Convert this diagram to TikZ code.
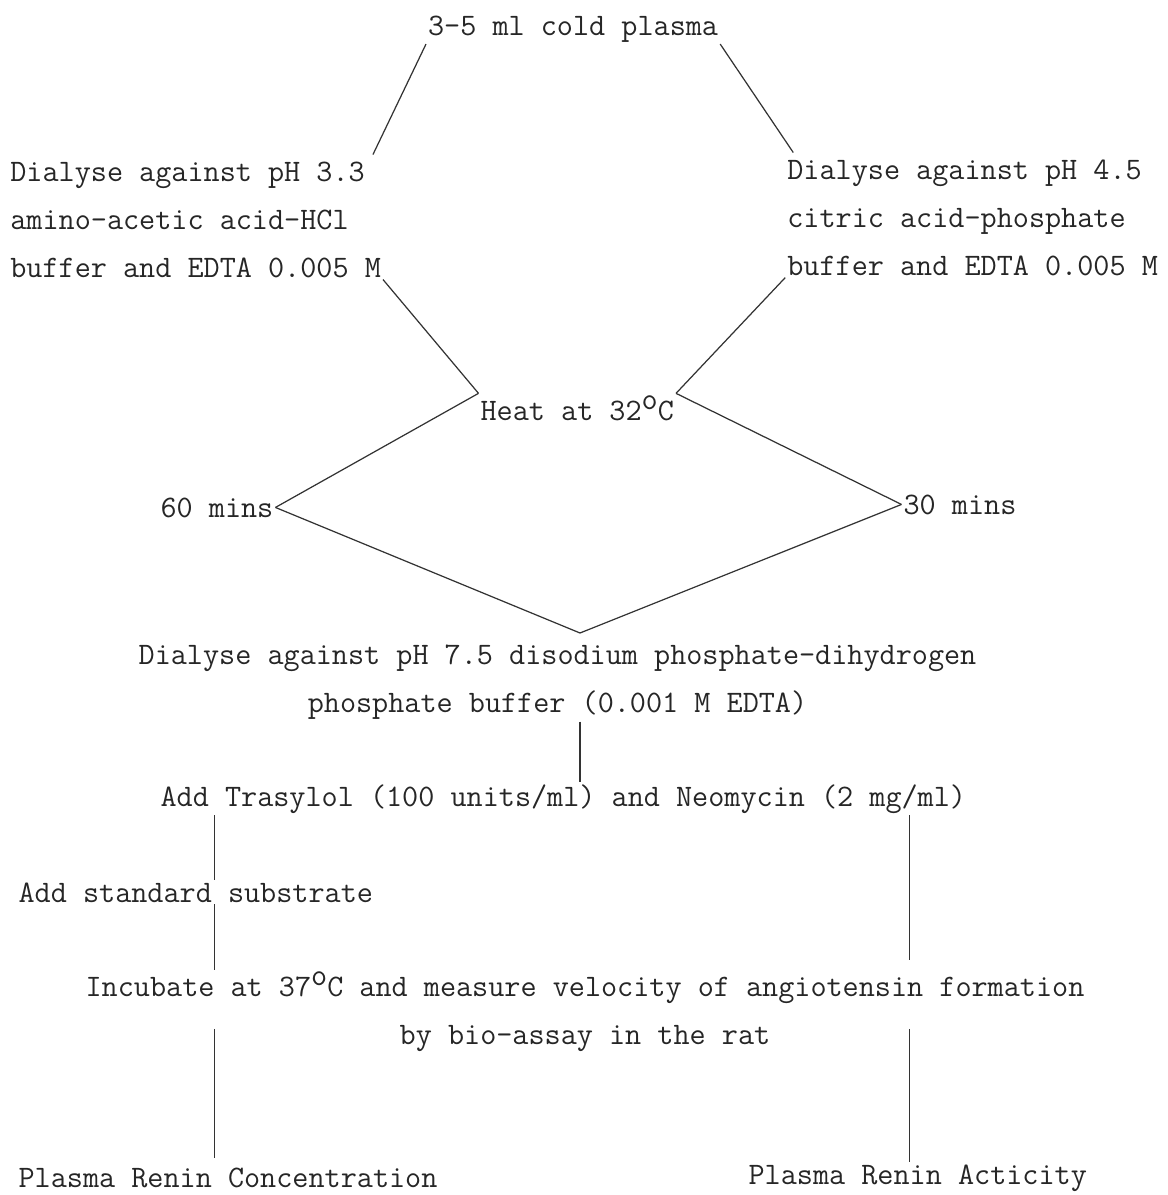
\documentclass[tikz,border=0pt]{standalone}
\usepackage{fontspec}
\usepackage{tikz}
\usetikzlibrary{calc}
\newcommand{\stagefont}{\fontsize{17.8}{27.3}\selectfont\ttfamily}
\newcommand{\dego}{\raisebox{0.8ex}{o}}
\tikzstyle{stage} = [font=\stagefont, text=black!85, inner sep=1pt, align=left]
\tikzstyle{link} = [line width=0.7pt, draw=black!80]

\begin{document}
\begin{tikzpicture}
	\useasboundingbox (0,0) rectangle (23.34,-23.9);
	%Plasma
	\node[stage, anchor=base west] (plasma) at (8.52,-0.70) {3-5 ml cold plasma};
	%First dialysis
	\node[stage, anchor=north west] (acid) at (0.165,-3.19) {Dialyse against pH 3.3\\amino-acetic acid-HCl\\buffer and EDTA 0.005 M};
	\node[stage, anchor=north west] (citric) at (15.705,-3.15) {Dialyse against pH 4.5\\citric acid-phosphate\\buffer and EDTA 0.005 M};
	\draw[link] (plasma.south west) -- ([xshift=-0.2cm, yshift=0.1cm]acid.north east);
	\draw[link] (plasma.south east) -- ([xshift=0.16cm, yshift=0.1cm]citric.north west);
	%Heat
	\node[stage, anchor=base west] (heat) at (9.57,-8.40) {Heat at 32\dego C};
	\draw[link] (acid.south east) -- (heat.north west);
	\draw[link] (citric.south west) -- (heat.north east);
	%Times
	\node[stage, anchor=base west] (sixty) at (3.17,-10.34) {60 mins};
	\node[stage, anchor=base west] (thirty) at (18.03,-10.28) {30 mins};
	\draw[link] (heat.north west) -- (sixty.east);
	\draw[link] (heat.north east) -- (thirty.west);
	%Second dialysis
	\node[stage, anchor=north, align=center] (neutral) at (11.15,-12.86) {Dialyse against pH 7.5 disodium phosphate-dihydrogen\\phosphate buffer (0.001 M EDTA)};
	\coordinate (midcol) at (11.6,0);
	\draw[link] (sixty.east) -- ($(neutral.north -| midcol)+(0,0.2)$);
	\draw[link] (thirty.west) -- ($(neutral.north -| midcol)+(0,0.2)$);
	%Inhibitors
	\node[stage, anchor=base west] (inhib) at (3.17,-16.12) {Add Trasylol (100 units/ml) and Neomycin (2 mg/ml)};
	\draw[link] (neutral.south -| midcol) -- (inhib.north -| midcol);
	\coordinate (leftcol) at ([xshift=1.12cm]inhib.south west);
	\coordinate (rightcol) at ([xshift=15.02cm]inhib.south west);
	%Substrate
	\node[stage, anchor=base west] (subs) at (0.33,-18.04) {Add standard substrate};
	\draw[link] (inhib.south -| leftcol) -- (subs.north -| leftcol);
	%Incubation
	\node[stage, anchor=north, align=center] (incub) at (11.7,-19.40) {Incubate at 37\dego C and measure velocity of angiotensin formation\\by bio-assay in the rat};
	\draw[link] (subs.south -| leftcol) -- (incub.north -| leftcol);
	\draw[link] (inhib.south -| rightcol) -- ($(incub.north -| rightcol)+(0,0.2)$);
	%Results
	\node[stage, anchor=base west] (conc) at (0.33,-23.74) {Plasma Renin Concentration};
	\node[stage, anchor=base west] (activ) at (14.93,-23.68) {Plasma Renin Acticity};
	\draw[link] ($(incub.south -| leftcol)+(0,0.5)$) -- ($(conc.north -| leftcol)+(0,0.15)$);
	\draw[link] ($(incub.south -| rightcol)+(0,0.5)$) -- (activ.north -| rightcol);

\end{tikzpicture}
\end{document}
